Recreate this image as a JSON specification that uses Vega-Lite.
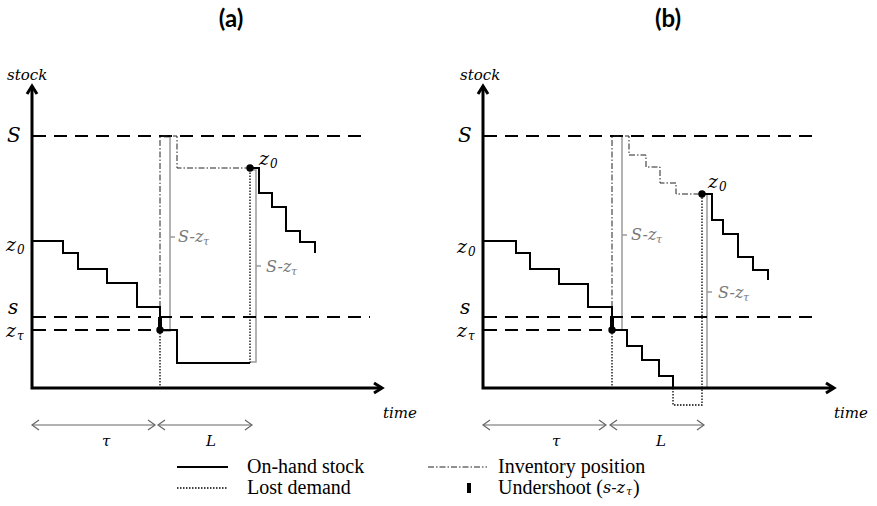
{
  "$schema": "https://vega.github.io/schema/vega-lite/v6.json",
  "width": 877,
  "height": 506,
  "autosize": {"type": "fit", "contains": "padding"},
  "padding": 0,
  "background": "white",
  "config": {"view": {"stroke": null}},
  "datasets": {
    "lines": [
      {"k":"axis","id":"a_ax","o":0,"t":32,"q":302},{"k":"axis","id":"a_ax","o":1,"t":32,"q":0},{"k":"axis","id":"a_ax","o":2,"t":382,"q":0},
      {"k":"axis","id":"a_yh","o":0,"t":27,"q":294},{"k":"axis","id":"a_yh","o":1,"t":32,"q":302},{"k":"axis","id":"a_yh","o":2,"t":37,"q":294},
      {"k":"axis","id":"a_xh","o":0,"t":374,"q":5},{"k":"axis","id":"a_xh","o":1,"t":382,"q":0},{"k":"axis","id":"a_xh","o":2,"t":374,"q":-5},
      {"k":"axis","id":"b_ax","o":0,"t":483,"q":302},{"k":"axis","id":"b_ax","o":1,"t":483,"q":0},{"k":"axis","id":"b_ax","o":2,"t":834,"q":0},
      {"k":"axis","id":"b_yh","o":0,"t":478,"q":294},{"k":"axis","id":"b_yh","o":1,"t":483,"q":302},{"k":"axis","id":"b_yh","o":2,"t":488,"q":294},
      {"k":"axis","id":"b_xh","o":0,"t":826,"q":5},{"k":"axis","id":"b_xh","o":1,"t":834,"q":0},{"k":"axis","id":"b_xh","o":2,"t":826,"q":-5},

      {"k":"dash","id":"a_S","o":0,"t":33,"q":252},{"k":"dash","id":"a_S","o":1,"t":367,"q":252},
      {"k":"dash","id":"a_s","o":0,"t":33,"q":71},{"k":"dash","id":"a_s","o":1,"t":370,"q":71},
      {"k":"dash","id":"a_z","o":0,"t":33,"q":58},{"k":"dash","id":"a_z","o":1,"t":160,"q":58},
      {"k":"dash","id":"b_S","o":0,"t":484,"q":252},{"k":"dash","id":"b_S","o":1,"t":817,"q":252},
      {"k":"dash","id":"b_s","o":0,"t":484,"q":71},{"k":"dash","id":"b_s","o":1,"t":820,"q":71},
      {"k":"dash","id":"b_z","o":0,"t":484,"q":58},{"k":"dash","id":"b_z","o":1,"t":612,"q":58},

      {"k":"oh","id":"a_h1","o":0,"t":33,"q":147},{"k":"oh","id":"a_h1","o":1,"t":63,"q":147},{"k":"oh","id":"a_h1","o":2,"t":63,"q":135},{"k":"oh","id":"a_h1","o":3,"t":78,"q":135},{"k":"oh","id":"a_h1","o":4,"t":78,"q":119},{"k":"oh","id":"a_h1","o":5,"t":107,"q":119},{"k":"oh","id":"a_h1","o":6,"t":107,"q":105},{"k":"oh","id":"a_h1","o":7,"t":137,"q":105},{"k":"oh","id":"a_h1","o":8,"t":137,"q":81},{"k":"oh","id":"a_h1","o":9,"t":160,"q":81},{"k":"oh","id":"a_h1","o":10,"t":160,"q":58},{"k":"oh","id":"a_h1","o":11,"t":177,"q":58},{"k":"oh","id":"a_h1","o":12,"t":177,"q":25},{"k":"oh","id":"a_h1","o":13,"t":250,"q":25},
      {"k":"oh","id":"a_h2","o":0,"t":250,"q":220},{"k":"oh","id":"a_h2","o":1,"t":259,"q":220},{"k":"oh","id":"a_h2","o":2,"t":259,"q":195},{"k":"oh","id":"a_h2","o":3,"t":272,"q":195},{"k":"oh","id":"a_h2","o":4,"t":272,"q":181},{"k":"oh","id":"a_h2","o":5,"t":286,"q":181},{"k":"oh","id":"a_h2","o":6,"t":286,"q":157},{"k":"oh","id":"a_h2","o":7,"t":300,"q":157},{"k":"oh","id":"a_h2","o":8,"t":300,"q":146},{"k":"oh","id":"a_h2","o":9,"t":315,"q":146},{"k":"oh","id":"a_h2","o":10,"t":315,"q":135},
      {"k":"oh","id":"b_h1","o":0,"t":484,"q":147},{"k":"oh","id":"b_h1","o":1,"t":516,"q":147},{"k":"oh","id":"b_h1","o":2,"t":516,"q":135},{"k":"oh","id":"b_h1","o":3,"t":530,"q":135},{"k":"oh","id":"b_h1","o":4,"t":530,"q":119},{"k":"oh","id":"b_h1","o":5,"t":559,"q":119},{"k":"oh","id":"b_h1","o":6,"t":559,"q":104},{"k":"oh","id":"b_h1","o":7,"t":588,"q":104},{"k":"oh","id":"b_h1","o":8,"t":588,"q":81},{"k":"oh","id":"b_h1","o":9,"t":612,"q":81},{"k":"oh","id":"b_h1","o":10,"t":612,"q":58},{"k":"oh","id":"b_h1","o":11,"t":627,"q":58},{"k":"oh","id":"b_h1","o":12,"t":627,"q":42},{"k":"oh","id":"b_h1","o":13,"t":642,"q":42},{"k":"oh","id":"b_h1","o":14,"t":642,"q":28},{"k":"oh","id":"b_h1","o":15,"t":659,"q":28},{"k":"oh","id":"b_h1","o":16,"t":659,"q":12},{"k":"oh","id":"b_h1","o":17,"t":673,"q":12},{"k":"oh","id":"b_h1","o":18,"t":673,"q":0},
      {"k":"oh","id":"b_h2","o":0,"t":702,"q":194},{"k":"oh","id":"b_h2","o":1,"t":712,"q":194},{"k":"oh","id":"b_h2","o":2,"t":712,"q":168},{"k":"oh","id":"b_h2","o":3,"t":723,"q":168},{"k":"oh","id":"b_h2","o":4,"t":723,"q":154},{"k":"oh","id":"b_h2","o":5,"t":738,"q":154},{"k":"oh","id":"b_h2","o":6,"t":738,"q":131},{"k":"oh","id":"b_h2","o":7,"t":753,"q":131},{"k":"oh","id":"b_h2","o":8,"t":753,"q":118},{"k":"oh","id":"b_h2","o":9,"t":768,"q":118},{"k":"oh","id":"b_h2","o":10,"t":768,"q":108},
      {"k":"oh","id":"leg_h","o":0,"t":177,"q":-79},{"k":"oh","id":"leg_h","o":1,"t":228,"q":-79},

      {"k":"dot","id":"a_d1","o":0,"t":160,"q":58},{"k":"dot","id":"a_d1","o":1,"t":160,"q":0},
      {"k":"dot","id":"a_d2","o":0,"t":250,"q":25},{"k":"dot","id":"a_d2","o":1,"t":250,"q":220},
      {"k":"dot","id":"b_d1","o":0,"t":612,"q":58},{"k":"dot","id":"b_d1","o":1,"t":612,"q":0},
      {"k":"dot","id":"b_d2","o":0,"t":673,"q":0},{"k":"dot","id":"b_d2","o":1,"t":673,"q":-17},{"k":"dot","id":"b_d2","o":2,"t":702,"q":-17},{"k":"dot","id":"b_d2","o":3,"t":702,"q":194},
      {"k":"dot","id":"leg_d","o":0,"t":177,"q":-100},{"k":"dot","id":"leg_d","o":1,"t":228,"q":-100},

      {"k":"dd","id":"a_ip","o":0,"t":160,"q":58},{"k":"dd","id":"a_ip","o":1,"t":160,"q":252},{"k":"dd","id":"a_ip","o":2,"t":177,"q":252},{"k":"dd","id":"a_ip","o":3,"t":177,"q":220},{"k":"dd","id":"a_ip","o":4,"t":249,"q":220},
      {"k":"dd","id":"b_ip","o":0,"t":612,"q":58},{"k":"dd","id":"b_ip","o":1,"t":612,"q":252},{"k":"dd","id":"b_ip","o":2,"t":629,"q":252},{"k":"dd","id":"b_ip","o":3,"t":629,"q":233},{"k":"dd","id":"b_ip","o":4,"t":646,"q":233},{"k":"dd","id":"b_ip","o":5,"t":646,"q":221},{"k":"dd","id":"b_ip","o":6,"t":660,"q":221},{"k":"dd","id":"b_ip","o":7,"t":660,"q":205},{"k":"dd","id":"b_ip","o":8,"t":676,"q":205},{"k":"dd","id":"b_ip","o":9,"t":676,"q":194},{"k":"dd","id":"b_ip","o":10,"t":702,"q":194},
      {"k":"dd","id":"leg_ip","o":0,"t":428,"q":-79},{"k":"dd","id":"leg_ip","o":1,"t":487,"q":-79},

      {"k":"gray","id":"a_g1","o":0,"t":164,"q":251},{"k":"gray","id":"a_g1","o":1,"t":170,"q":251},{"k":"gray","id":"a_g1","o":2,"t":170,"q":57},{"k":"gray","id":"a_g1","o":3,"t":164,"q":57},
      {"k":"gray","id":"a_g1m","o":0,"t":170,"q":151},{"k":"gray","id":"a_g1m","o":1,"t":175,"q":151},
      {"k":"gray","id":"a_g2","o":0,"t":250,"q":218},{"k":"gray","id":"a_g2","o":1,"t":256,"q":218},{"k":"gray","id":"a_g2","o":2,"t":256,"q":26},{"k":"gray","id":"a_g2","o":3,"t":250,"q":26},
      {"k":"gray","id":"a_g2m","o":0,"t":256,"q":122},{"k":"gray","id":"a_g2m","o":1,"t":261,"q":122},
      {"k":"gray","id":"b_g1","o":0,"t":613,"q":252},{"k":"gray","id":"b_g1","o":1,"t":622,"q":252},{"k":"gray","id":"b_g1","o":2,"t":622,"q":58},{"k":"gray","id":"b_g1","o":3,"t":616,"q":58},
      {"k":"gray","id":"b_g1m","o":0,"t":622,"q":153},{"k":"gray","id":"b_g1m","o":1,"t":627,"q":153},
      {"k":"gray","id":"b_g2","o":0,"t":707,"q":194},{"k":"gray","id":"b_g2","o":1,"t":707,"q":0},
      {"k":"gray","id":"b_g2m","o":0,"t":707,"q":96},{"k":"gray","id":"b_g2m","o":1,"t":712,"q":96},

      {"k":"under","id":"a_u","o":0,"t":160,"q":71},{"k":"under","id":"a_u","o":1,"t":160,"q":58},
      {"k":"under","id":"b_u","o":0,"t":612,"q":71},{"k":"under","id":"b_u","o":1,"t":612,"q":58},
      {"k":"under","id":"leg_u","o":0,"t":469,"q":-95},{"k":"under","id":"leg_u","o":1,"t":469,"q":-105},

      {"k":"tarr","id":"a_t","o":0,"t":32,"q":-37},{"k":"tarr","id":"a_t","o":1,"t":155,"q":-37},
      {"k":"tarr","id":"a_th1","o":0,"t":39,"q":-32},{"k":"tarr","id":"a_th1","o":1,"t":32,"q":-37},{"k":"tarr","id":"a_th1","o":2,"t":39,"q":-42},
      {"k":"tarr","id":"a_th2","o":0,"t":148,"q":-32},{"k":"tarr","id":"a_th2","o":1,"t":155,"q":-37},{"k":"tarr","id":"a_th2","o":2,"t":148,"q":-42},
      {"k":"tarr","id":"a_L","o":0,"t":158,"q":-37},{"k":"tarr","id":"a_L","o":1,"t":252,"q":-37},
      {"k":"tarr","id":"a_Lh1","o":0,"t":165,"q":-32},{"k":"tarr","id":"a_Lh1","o":1,"t":158,"q":-37},{"k":"tarr","id":"a_Lh1","o":2,"t":165,"q":-42},
      {"k":"tarr","id":"a_Lh2","o":0,"t":245,"q":-32},{"k":"tarr","id":"a_Lh2","o":1,"t":252,"q":-37},{"k":"tarr","id":"a_Lh2","o":2,"t":245,"q":-42},
      {"k":"tarr","id":"b_t","o":0,"t":483,"q":-37},{"k":"tarr","id":"b_t","o":1,"t":606,"q":-37},
      {"k":"tarr","id":"b_th1","o":0,"t":490,"q":-32},{"k":"tarr","id":"b_th1","o":1,"t":483,"q":-37},{"k":"tarr","id":"b_th1","o":2,"t":490,"q":-42},
      {"k":"tarr","id":"b_th2","o":0,"t":599,"q":-32},{"k":"tarr","id":"b_th2","o":1,"t":606,"q":-37},{"k":"tarr","id":"b_th2","o":2,"t":599,"q":-42},
      {"k":"tarr","id":"b_L","o":0,"t":610,"q":-37},{"k":"tarr","id":"b_L","o":1,"t":704,"q":-37},
      {"k":"tarr","id":"b_Lh1","o":0,"t":617,"q":-32},{"k":"tarr","id":"b_Lh1","o":1,"t":610,"q":-37},{"k":"tarr","id":"b_Lh1","o":2,"t":617,"q":-42},
      {"k":"tarr","id":"b_Lh2","o":0,"t":697,"q":-32},{"k":"tarr","id":"b_Lh2","o":1,"t":704,"q":-37},{"k":"tarr","id":"b_Lh2","o":2,"t":697,"q":-42}
    ],
    "pts": [
      {"t":160,"q":58},{"t":250,"q":220},{"t":612,"q":58},{"t":702,"q":194}
    ],
    "texts": [
      {"k":"big","t":7,"q":252,"s":"S"},{"k":"big","t":8,"q":80,"s":"s"},
      {"k":"big","t":458,"q":252,"s":"S"},{"k":"big","t":460,"q":80,"s":"s"},
      {"k":"z","t":6,"q":143,"s":"z"},{"k":"sub","t":17,"q":138,"s":"0"},
      {"k":"z","t":6,"q":57,"s":"z"},{"k":"sub","t":17,"q":52,"s":"τ"},
      {"k":"z","t":259,"q":229,"s":"z"},{"k":"sub","t":270,"q":224,"s":"0"},
      {"k":"z","t":457,"q":141,"s":"z"},{"k":"sub","t":468,"q":136,"s":"0"},
      {"k":"z","t":457,"q":57,"s":"z"},{"k":"sub","t":468,"q":52,"s":"τ"},
      {"k":"z","t":708,"q":206,"s":"z"},{"k":"sub","t":719,"q":201,"s":"0"},
      {"k":"glbl","t":178,"q":151,"s":"S-z"},{"k":"gsub","t":203,"q":146,"s":"τ"},
      {"k":"glbl","t":266,"q":121,"s":"S-z"},{"k":"gsub","t":291,"q":116,"s":"τ"},
      {"k":"glbl","t":631,"q":153,"s":"S-z"},{"k":"gsub","t":656,"q":148,"s":"τ"},
      {"k":"glbl","t":718,"q":95,"s":"S-z"},{"k":"gsub","t":743,"q":90,"s":"τ"},
      {"k":"axl","t":7,"q":313,"s":"stock"},{"k":"axl","t":460,"q":313,"s":"stock"},
      {"k":"axl","t":383,"q":-25,"s":"time"},{"k":"axl","t":834,"q":-25,"s":"time"},
      {"k":"axl","t":102,"q":-53,"s":"τ"},{"k":"axl","t":552,"q":-53,"s":"τ"},
      {"k":"axl","t":206,"q":-53,"s":"L"},{"k":"axl","t":656,"q":-53,"s":"L"},
      {"k":"title","t":231,"q":368,"s":"(a)"},{"k":"title","t":668,"q":368,"s":"(b)"},
      {"k":"leg","t":247,"q":-79,"s":"On-hand stock"},{"k":"leg","t":247,"q":-100,"s":"Lost demand"},
      {"k":"leg","t":498,"q":-79,"s":"Inventory position"},{"k":"leg","t":498,"q":-100,"s":"Undershoot ("},
      {"k":"legit","t":603,"q":-100,"s":"s-z"},{"k":"legsub","t":626,"q":-104,"s":"τ"},{"k":"leg","t":633,"q":-100,"s":")"}
    ]
  },
  "encoding": {
    "x": {"field": "t", "type": "quantitative", "scale": {"domain": [0, 877], "nice": false, "zero": false}, "axis": null},
    "y": {"field": "q", "type": "quantitative", "scale": {"domain": [-118, 388], "nice": false, "zero": false}, "axis": null}
  },
  "layer": [
    {"data": {"name": "lines"}, "transform": [{"filter": "datum.k === 'gray'"}], "mark": {"type": "line", "stroke": "#9a9a9a", "strokeWidth": 1.5}, "encoding": {"detail": {"field": "id"}, "order": {"field": "o"}}},
    {"data": {"name": "lines"}, "transform": [{"filter": "datum.k === 'dash'"}], "mark": {"type": "line", "stroke": "black", "strokeWidth": 2, "strokeDash": [13, 8]}, "encoding": {"detail": {"field": "id"}, "order": {"field": "o"}}},
    {"data": {"name": "lines"}, "transform": [{"filter": "datum.k === 'dd'"}], "mark": {"type": "line", "stroke": "#222", "strokeWidth": 1, "strokeDash": [6, 2, 1.5, 2]}, "encoding": {"detail": {"field": "id"}, "order": {"field": "o"}}},
    {"data": {"name": "lines"}, "transform": [{"filter": "datum.k === 'dot'"}], "mark": {"type": "line", "stroke": "black", "strokeWidth": 1.3, "strokeDash": [1.5, 1.5]}, "encoding": {"detail": {"field": "id"}, "order": {"field": "o"}}},
    {"data": {"name": "lines"}, "transform": [{"filter": "datum.k === 'oh'"}], "mark": {"type": "line", "stroke": "black", "strokeWidth": 2}, "encoding": {"detail": {"field": "id"}, "order": {"field": "o"}}},
    {"data": {"name": "lines"}, "transform": [{"filter": "datum.k === 'under'"}], "mark": {"type": "line", "stroke": "black", "strokeWidth": 4}, "encoding": {"detail": {"field": "id"}, "order": {"field": "o"}}},
    {"data": {"name": "lines"}, "transform": [{"filter": "datum.k === 'axis'"}], "mark": {"type": "line", "stroke": "black", "strokeWidth": 3}, "encoding": {"detail": {"field": "id"}, "order": {"field": "o"}}},
    {"data": {"name": "lines"}, "transform": [{"filter": "datum.k === 'tarr'"}], "mark": {"type": "line", "stroke": "#666", "strokeWidth": 1.2}, "encoding": {"detail": {"field": "id"}, "order": {"field": "o"}}},
    {"data": {"name": "pts"}, "mark": {"type": "point", "filled": true, "color": "black", "size": 55, "opacity": 1}},
    {"data": {"name": "texts"}, "transform": [{"filter": "datum.k === 'big'"}], "mark": {"type": "text", "font": "DejaVu Serif", "fontStyle": "italic", "fontSize": 20, "align": "left", "baseline": "middle", "color": "black"}, "encoding": {"text": {"field": "s"}}},
    {"data": {"name": "texts"}, "transform": [{"filter": "datum.k === 'z'"}], "mark": {"type": "text", "font": "DejaVu Serif", "fontStyle": "italic", "fontSize": 19, "align": "left", "baseline": "middle", "color": "black"}, "encoding": {"text": {"field": "s"}}},
    {"data": {"name": "texts"}, "transform": [{"filter": "datum.k === 'sub'"}], "mark": {"type": "text", "font": "DejaVu Serif", "fontStyle": "italic", "fontSize": 12, "align": "left", "baseline": "middle", "color": "black"}, "encoding": {"text": {"field": "s"}}},
    {"data": {"name": "texts"}, "transform": [{"filter": "datum.k === 'glbl'"}], "mark": {"type": "text", "font": "DejaVu Serif", "fontStyle": "italic", "fontSize": 16, "align": "left", "baseline": "middle", "color": "#7a7a7a"}, "encoding": {"text": {"field": "s"}}},
    {"data": {"name": "texts"}, "transform": [{"filter": "datum.k === 'gsub'"}], "mark": {"type": "text", "font": "DejaVu Serif", "fontStyle": "italic", "fontSize": 11, "align": "left", "baseline": "middle", "color": "#7a7a7a"}, "encoding": {"text": {"field": "s"}}},
    {"data": {"name": "texts"}, "transform": [{"filter": "datum.k === 'axl'"}], "mark": {"type": "text", "font": "DejaVu Serif", "fontStyle": "italic", "fontSize": 15, "align": "left", "baseline": "middle", "color": "black"}, "encoding": {"text": {"field": "s"}}},
    {"data": {"name": "texts"}, "transform": [{"filter": "datum.k === 'title'"}], "mark": {"type": "text", "font": "Lato", "fontWeight": "bold", "fontSize": 24, "align": "center", "baseline": "middle", "color": "black"}, "encoding": {"text": {"field": "s"}}},
    {"data": {"name": "texts"}, "transform": [{"filter": "datum.k === 'leg'"}], "mark": {"type": "text", "font": "Liberation Serif", "fontSize": 20, "align": "left", "baseline": "middle", "color": "black"}, "encoding": {"text": {"field": "s"}}},
    {"data": {"name": "texts"}, "transform": [{"filter": "datum.k === 'legit'"}], "mark": {"type": "text", "font": "DejaVu Serif", "fontStyle": "italic", "fontSize": 16, "align": "left", "baseline": "middle", "color": "black"}, "encoding": {"text": {"field": "s"}}},
    {"data": {"name": "texts"}, "transform": [{"filter": "datum.k === 'legsub'"}], "mark": {"type": "text", "font": "DejaVu Serif", "fontStyle": "italic", "fontSize": 11, "align": "left", "baseline": "middle", "color": "black"}, "encoding": {"text": {"field": "s"}}}
  ]
}
